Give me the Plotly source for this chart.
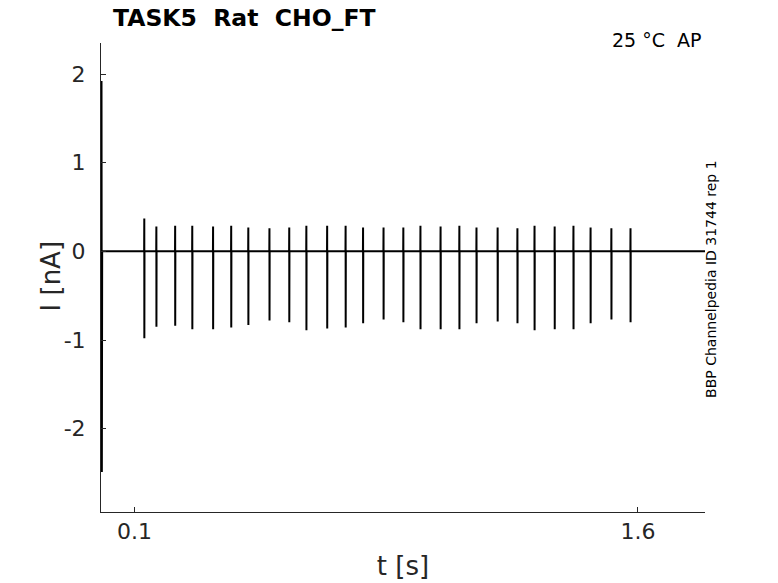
import plotly.graph_objects as go

# spike times (s) and peak amplitudes (nA)
spike_t = [0.129, 0.165, 0.221, 0.272, 0.334, 0.388, 0.439, 0.502, 0.561,
           0.612, 0.674, 0.729, 0.781, 0.842, 0.901, 0.952, 1.012, 1.068,
           1.119, 1.182, 1.241, 1.292, 1.352, 1.408, 1.459, 1.521, 1.578]
spike_pos = [0.37, 0.28, 0.29, 0.29, 0.28, 0.29, 0.27, 0.26, 0.27,
             0.29, 0.29, 0.29, 0.27, 0.27, 0.27, 0.29, 0.28, 0.29,
             0.27, 0.27, 0.26, 0.29, 0.28, 0.29, 0.27, 0.26, 0.26]
spike_neg = [-0.98, -0.85, -0.84, -0.88, -0.88, -0.86, -0.83, -0.78, -0.80,
             -0.89, -0.87, -0.86, -0.81, -0.77, -0.80, -0.88, -0.88, -0.88,
             -0.81, -0.79, -0.81, -0.89, -0.88, -0.88, -0.81, -0.77, -0.80]

# capacitive transient at the start of the sweep
trans_t = [0.0015, 0.0025]
trans_i = [1.92, -2.49]

t_end = 1.8
xticks = [0.1, 1.6]
xlabels = ["0.1", "1.6"]
yticks = [-2, -1, 0, 1, 2]
ylabels = ["-2", "-1", "0", "1", "2"]

# assemble the trace
t = [0.0]
i = [0.0]
for tt, ii in zip(trans_t, trans_i):
    t.append(tt)
    i.append(ii)
t.append(0.0035)
i.append(0.0)
for tt, p, n in zip(spike_t, spike_pos, spike_neg):
    t += [tt - 0.0004, tt, tt + 0.0002, tt + 0.0006]
    i += [0.0, p, n, 0.0]
t.append(t_end)
i.append(0.0)

fig = go.Figure()
fig.add_trace(go.Scatter(x=t, y=i, mode="lines",
                         line=dict(color="black", width=2),
                         hoverinfo="skip", showlegend=False))

axis_col = "#262626"
fig.update_xaxes(range=[0, t_end], tickvals=xticks, ticktext=xlabels,
                 showgrid=False, zeroline=False, showline=True, automargin=False,
                 linecolor=axis_col, linewidth=1, ticks="inside", ticklen=5,
                 tickcolor=axis_col, tickfont=dict(size=22, color=axis_col),
                 title=dict(text="t [s]", font=dict(size=26, color=axis_col),
                            standoff=13))
fig.update_yaxes(range=[-2.94, 2.35], tickvals=yticks, ticktext=ylabels,
                 showgrid=False, zeroline=False, showline=True, automargin=False,
                 linecolor=axis_col, linewidth=1, ticks="inside", ticklen=5,
                 ticklabelstandoff=10,
                 tickcolor=axis_col, tickfont=dict(size=22, color=axis_col))

fig.add_annotation(text="I [nA]", xref="paper", yref="paper",
                   x=-0.083, y=0.502, textangle=-90,
                   xanchor="center", yanchor="middle", showarrow=False,
                   font=dict(size=26, color=axis_col))
fig.add_annotation(text="<b>TASK5\u00a0\u00a0Rat\u00a0\u00a0CHO_FT</b>",
                   xref="paper", yref="paper", x=0.019, y=1.054,
                   xanchor="left", yanchor="middle", showarrow=False,
                   borderpad=0, font=dict(size=23.5, color="black"))
fig.add_annotation(text="25 °C\u00a0\u00a0AP", xref="paper", yref="paper",
                   x=0.998, y=1.007, xanchor="right", yanchor="middle",
                   showarrow=False, font=dict(size=19, color="black"))
fig.add_annotation(text="BBP Channelpedia ID 31744 rep 1", xref="paper",
                   yref="paper", x=1.01, y=0.497, textangle=-90,
                   xanchor="center", yanchor="middle", showarrow=False,
                   font=dict(size=14, color="black"))

# page body has an 8px margin, so the figure is a little smaller
fig.update_layout(width=770, height=575,
                  margin=dict(l=93, r=73, t=35, b=71),
                  paper_bgcolor="white", plot_bgcolor="white",
                  font=dict(family="DejaVu Sans"))

fig.write_html("out.html")
